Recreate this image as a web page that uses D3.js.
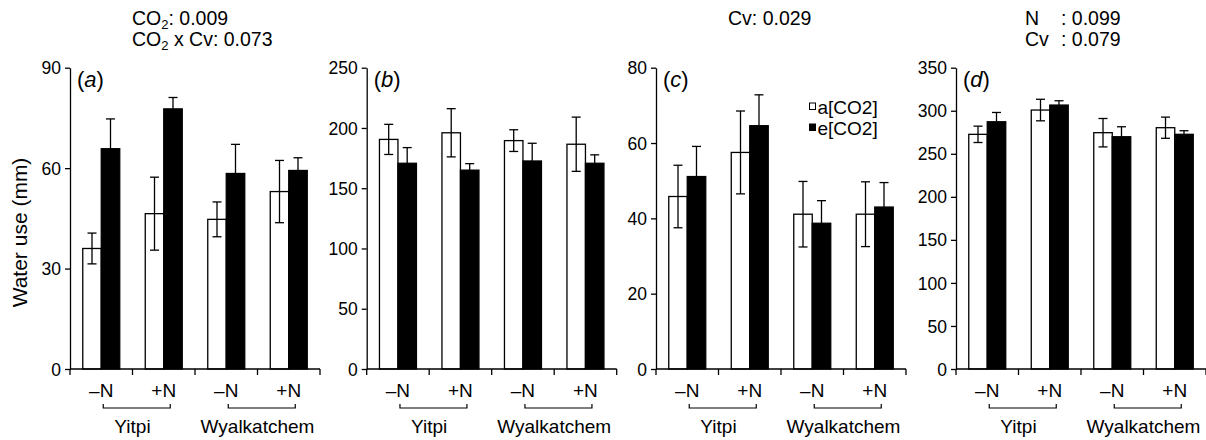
<!DOCTYPE html>
<html>
<head>
<meta charset="utf-8">
<script src="https://cdn.jsdelivr.net/npm/d3@7"></script>
<style>
  body { margin: 0; background: #fff; }
  svg { display: block; font-family: "Liberation Sans", Arial, sans-serif; }
  .axis path, .axis line { stroke: #000; stroke-width: 1.3px; }
  .axis text { font-size: 17.5px; fill: #000; }
</style>
</head>
<body>
<div id="chart"></div>
<script>
// ---- data ----
const nLevels = ["\u2013N", "+N", "\u2013N", "+N"];
const cultivars = ["Yitpi", "Wyalkatchem"];
const series = ["a[CO2]", "e[CO2]"];

// (a)
const aAmbient = [36.0, 46.4, 44.7, 53.0];
const aAmbientErr = [4.6, 10.9, 5.2, 9.3];
const aElevated = [65.8, 77.7, 58.4, 59.3];
const aElevatedErr = [8.9, 3.4, 8.7, 3.8];
// (b)
const bAmbient = [190.5, 196, 189.5, 186.5];
const bAmbientErr = [12.5, 20, 9, 22.5];
const bElevated = [170.7, 165, 172.6, 170.7];
const bElevatedErr = [13, 5.4, 14.7, 7];
// (c)
const cAmbient = [45.8, 57.5, 41.1, 41.1];
const cAmbientErr = [8.3, 11, 8.7, 8.6];
const cElevated = [51.1, 64.6, 38.7, 43.0];
const cElevatedErr = [8, 8.2, 6, 6.5];
// (d)
const dAmbient = [272.6, 300.8, 274.5, 280.3];
const dAmbientErr = [9.5, 12.5, 16.5, 12.3];
const dElevated = [287.2, 306.6, 269.8, 272.6];
const dElevatedErr = [10.8, 5, 11.6, 4.2];

const yMax = [90, 250, 80, 350];
const yStep = [30, 50, 20, 50];
const panelLetters = ["a", "b", "c", "d"];

// ---- layout ----
const W = 1206, H = 440;
const plotTop = 67.7, plotBottom = 369;
const panelLeft = [70, 366.7, 656, 956];
const panelWidth = 250;

const svg = d3.select("#chart").append("svg")
    .attr("width", W)
    .attr("height", H);

const panels = [
    [aAmbient, aAmbientErr, aElevated, aElevatedErr],
    [bAmbient, bAmbientErr, bElevated, bElevatedErr],
    [cAmbient, cAmbientErr, cElevated, cElevatedErr],
    [dAmbient, dAmbientErr, dElevated, dElevatedErr]
];

panels.forEach((p, i) => drawPanel(i, p));

function drawPanel(i, [amb, ambErr, ele, eleErr]) {
    const g = svg.append("g").attr("transform", `translate(${panelLeft[i]},0)`);
    const idx = d3.range(nLevels.length);

    const x0 = d3.scaleBand().domain(idx).range([0, panelWidth]);
    const x1 = d3.scaleBand().domain(series).range([0, x0.bandwidth()]).paddingOuter(0.69);
    const y = d3.scaleLinear().domain([0, yMax[i]]).range([plotBottom, plotTop]);

    const rows = idx.map(k => [
        { s: series[0], k, v: amb[k], e: ambErr[k] },
        { s: series[1], k, v: ele[k], e: eleErr[k] }
    ]).flat();

    // bars
    g.selectAll(".bar").data(rows).enter().append("rect")
        .attr("class", "bar")
        .attr("x", d => x0(d.k) + x1(d.s))
        .attr("y", d => y(d.v))
        .attr("width", x1.bandwidth())
        .attr("height", d => plotBottom - y(d.v))
        .attr("fill", d => d.s === series[0] ? "#fff" : "#000")
        .attr("stroke", "#000")
        .attr("stroke-width", 1.3);

    // error bars
    const eb = g.selectAll(".err").data(rows).enter().append("g")
        .attr("class", "err")
        .attr("transform", d => `translate(${x0(d.k) + x1(d.s) + x1.bandwidth() / 2},0)`)
        .attr("stroke", "#000")
        .attr("stroke-width", 1.3);
    eb.append("line").attr("y1", d => y(d.v - d.e)).attr("y2", d => y(d.v + d.e));
    eb.append("line").attr("x1", -4.5).attr("x2", 4.5)
        .attr("y1", d => y(d.v + d.e)).attr("y2", d => y(d.v + d.e));
    eb.append("line").attr("x1", -4.5).attr("x2", 4.5)
        .attr("y1", d => y(d.v - d.e)).attr("y2", d => y(d.v - d.e));

    // y axis
    g.append("g").attr("class", "axis")
        .call(d3.axisLeft(y).tickValues(d3.range(0, yMax[i] + 1, yStep[i]))
            .tickSize(5).tickSizeOuter(0).tickPadding(4))
        .call(a => a.selectAll("text").attr("dy", "0.35em"));

    // x axis: baseline with ticks at band edges
    const xa = g.append("g").attr("class", "axis");
    xa.append("line").attr("x1", 0).attr("x2", panelWidth)
        .attr("y1", plotBottom).attr("y2", plotBottom);
    const edges = idx.map(k => x0(k)).concat([panelWidth]);
    xa.selectAll(".xt").data(edges).enter().append("line")
        .attr("x1", d => d).attr("x2", d => d)
        .attr("y1", plotBottom).attr("y2", plotBottom + 6);

    g.selectAll(".nlab").data(idx).enter().append("text")
        .attr("x", k => x0(k) + x0.bandwidth() / 2)
        .attr("y", 397)
        .attr("text-anchor", "middle")
        .style("font-size", "19px")
        .text(k => nLevels[k]);

    // cultivar brackets + labels
    cultivars.forEach((cv, c) => {
        const xa1 = x0(c * 2) + x0.bandwidth() / 2;
        const xa2 = x0(c * 2 + 1) + x0.bandwidth() / 2;
        g.append("path")
            .attr("d", `M${xa1 + 2},404V408H${xa2 + 6.5}V404`)
            .attr("fill", "none").attr("stroke", "#000").attr("stroke-width", 1.2);
        g.append("text")
            .attr("x", (xa1 + xa2) / 2)
            .attr("y", 433)
            .attr("text-anchor", "middle")
            .style("font-size", "19px")
            .text(cv);
    });

    // panel letter
    g.append("text")
        .attr("x", 7).attr("y", 87)
        .style("font-size", "22px")
        .html(`(<tspan font-style="italic">${panelLetters[i]}</tspan>)`);
}

// y label
svg.append("text")
    .attr("transform", "translate(27,232.5) rotate(-90)")
    .attr("text-anchor", "middle")
    .style("font-size", "21px")
    .text("Water use (mm)");

// significance annotations
const ann = svg.append("g").style("font-size", "19.5px");
ann.append("text").attr("x", 132).attr("y", 25)
    .html('CO<tspan font-size="13px" dy="4">2</tspan><tspan dy="-4">: 0.009</tspan>');
ann.append("text").attr("x", 132).attr("y", 46)
    .html('CO<tspan font-size="13px" dy="4">2</tspan><tspan dy="-4"> x Cv: 0.073</tspan>');
ann.append("text").attr("x", 728).attr("y", 25).text("Cv: 0.029");
ann.append("text").attr("x", 1025).attr("y", 25)
    .html('N<tspan x="1061">: 0.099</tspan>');
ann.append("text").attr("x", 1025).attr("y", 46)
    .html('Cv<tspan x="1061">: 0.079</tspan>');

// legend
const leg = svg.append("g").attr("transform", "translate(809,0)");
series.forEach((s, k) => {
    leg.append("rect")
        .attr("x", 0.5).attr("y", 103 + k * 21).attr("width", 6).attr("height", 6.5)
        .attr("fill", k === 0 ? "#fff" : "#000")
        .attr("stroke", "#000").attr("stroke-width", 1);
    leg.append("text")
        .attr("x", 8.5).attr("y", 113.5 + k * 21.5)
        .style("font-size", "19px")
        .text(s);
});
</script>
</body>
</html>
